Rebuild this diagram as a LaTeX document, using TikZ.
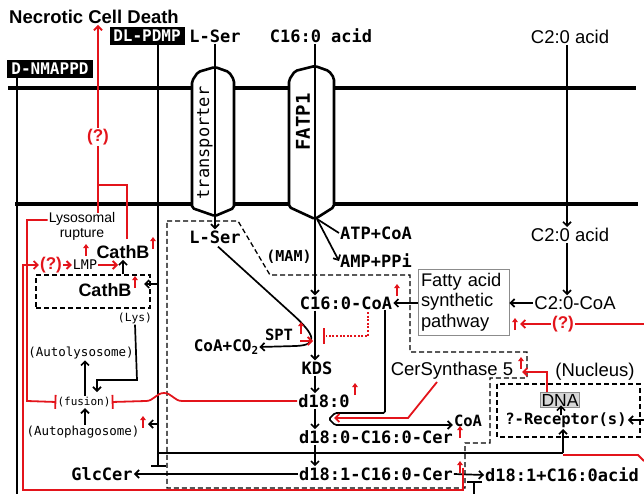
\documentclass[tikz,border=0pt]{standalone}
\usepackage{fontspec}
\setmainfont{Liberation Sans}
\newfontfamily\gothic{DejaVu Sans Mono}
\usepackage{tikz}
\usetikzlibrary{arrows.meta, calc}
\definecolor{PathRed}{HTML}{E3141B}
\definecolor{BoxGray}{HTML}{8C8C8C}
\definecolor{DnaFill}{HTML}{D6D6D6}

\tikzset{
  goth/.style={font=\gothic\bfseries\fontsize{17}{17}\selectfont, inner sep=1pt},
  gothsm/.style={font=\gothic\fontsize{12.5}{13}\selectfont, inner sep=1pt},
  ari/.style={font=\fontsize{18.5}{19}\selectfont, inner sep=1pt},
  tagbox/.style={fill=black, text=white, font=\gothic\bfseries\fontsize{16}{16}\selectfont, inner sep=1.5pt, minimum height=18pt},
  qmark/.style={text=PathRed, font=\bfseries\fontsize{17}{17}\selectfont, inner sep=1pt, fill=white},
  memb/.style={line width=3.4pt},
  chan/.style={line width=2.6pt, fill=white, rounded corners=2pt},
  link/.style={line width=1.7pt},
  flow/.style={line width=1.7pt, -{Straight Barb[length=4pt,width=8pt]}},
  redline/.style={PathRed, line width=1.8pt},
  redflow/.style={PathRed, line width=1.8pt, -{Straight Barb[length=4pt,width=8pt]}},
  redbar/.style={PathRed, line width=1.8pt, -{Bar[width=14pt]}},
  redup/.style={PathRed, line width=1.8pt, -{Triangle[length=4pt,width=5.5pt]}},
  dashbox/.style={line width=1.3pt, dash pattern=on 5pt off 3pt},
}
% small red "up" mark beside a raised level
\newcommand\upmark[2]{\draw[redup] (#1,#2+6) -- (#1,#2-6);}

\begin{document}
\begin{tikzpicture}[x=1pt,y=-1pt]
  \useasboundingbox (0,0) rectangle (644,494);

  % membranes and channels
  \draw[memb] (8,88) -- (636,88);
  \draw[memb] (15,204) -- (638,204);
  \draw[chan] (192,208) -- (192,81) -- (198,72) -- (215,67) -- (229,72) -- (234,80)
    -- (234,208) -- (215,216) -- cycle;
  \draw[chan] (289,207) -- (289,80) -- (295,71) -- (315,66) -- (329,71) -- (334,78)
    -- (334,207) -- (315,219) -- cycle;
  \node[goth, font=\gothic\fontsize{17}{17}\selectfont, rotate=90] (trans) at (205,143) {transporter};
  \node[goth, font=\gothic\bfseries\fontsize{19}{19}\selectfont, rotate=90] (fatp) at (303,122) {FATP1};

  % dashed compartments
  \draw[dashbox] (167,221) -- (238,221) -- (270,275) -- (410,275) -- (410,352) -- (527,352)
    -- (527,378) -- (490,378) -- (490,443) -- (465,443) -- (465,488) -- (167,488) -- cycle;
  \draw[dashbox] (497,384) rectangle (640,437);
  \node[dashbox, draw, minimum width=114pt, minimum height=33pt, inner sep=0pt] (lysbox) at (93,291.5) {};

  % labels outside
  \node[font=\bfseries\fontsize{18.5}{19}\selectfont, inner sep=1pt] (necro) at (94,17) {Necrotic Cell Death};
  \node[tagbox, minimum width=75pt] (pdmp) at (147,36) {DL-PDMP};
  \node[tagbox, minimum width=86pt] (nmappd) at (50,69) {D-NMAPPD};
  \node[goth] (serout) at (215,36) {L-Ser};
  \node[goth] (palmout) at (321,36) {C16:0 acid};
  \node[ari] (acetout) at (570,37) {C2:0 acid};

  % labels inside
  \node[goth] (serin) at (215,237) {L-Ser};
  \node[goth] (atp) at (376,233) {ATP+CoA};
  \node[goth] (amp) at (376,261) {AMP+PPi};
  \node[goth, font=\gothic\bfseries\fontsize{15}{15}\selectfont] (mam) at (289,257) {(MAM)};
  \node[goth] (palmcoa) at (346,303) {C16:0-CoA};
  \node[draw=BoxGray, line width=0.8pt, align=left, font=\fontsize{18.3}{20.5}\selectfont,
    inner xsep=3pt, inner ysep=2pt, text width=85pt, minimum height=66pt] (fasyn) at (463.5,302)
    {Fatty acid\\synthetic\\pathway};
  \node[ari] (acetin) at (570,235) {C2:0 acid};
  \node[ari] (acetcoa) at (575,303) {C2:0-CoA};
  \node[qmark] (qfas) at (563,324) {(?)};
  \node[goth, font=\gothic\bfseries\fontsize{15.5}{16}\selectfont] (spt) at (279,335) {SPT};
  \node[goth, font=\gothic\bfseries\fontsize{16}{16}\selectfont] (coaco) at (226,347)
    {CoA+CO\raisebox{-3pt}{\fontsize{11}{11}\selectfont 2}};
  \node[goth] (kds) at (317,368) {KDS};
  \node[goth] (sphinga) at (324,401) {d18:0};
  \node[ari] (cers) at (452,371) {CerSynthase 5};
  \node[ari] (nucl) at (595,372) {(Nucleus)};
  \node[draw=BoxGray, fill=DnaFill, line width=0.8pt, font=\fontsize{17.5}{18}\selectfont, inner sep=1.2pt] (dna) at (560,400) {DNA};
  \node[goth, font=\gothic\bfseries\fontsize{15.5}{16}\selectfont] (recep) at (566,420) {?-Receptor(s)};
  \node[goth, font=\gothic\bfseries\fontsize{15.5}{16}\selectfont] (coa) at (468,421) {CoA};
  \node[goth] (dhcer) at (376,437) {d18:0-C16:0-Cer};
  \node[goth] (cer) at (376,474) {d18:1-C16:0-Cer};
  \node[goth] (split) at (562,475) {d18:1+C16:0acid};
  \node[goth] (glc) at (102,474) {GlcCer};

  % lysosome side
  \node[qmark] (qdeath) at (98,137) {(?)};
  \node[font=\fontsize{14}{15}\selectfont, align=center, inner sep=1pt] (rupt) at (82,226) {Lysosomal\\rupture};
  \node[qmark] (qlmp) at (51,265) {(?)};
  \node[goth, font=\gothic\fontsize{13.3}{14}\selectfont] (lmp) at (85,265) {LMP};
  \node[font=\bfseries\fontsize{18}{18}\selectfont, inner sep=1pt] (cathout) at (123,252) {CathB};
  \node[font=\bfseries\fontsize{18}{18}\selectfont, inner sep=1pt] (cathin) at (105,290) {CathB};
  \node[goth, font=\gothic\fontsize{11.3}{12}\selectfont] (lys) at (135,318) {(Lys)};
  \node[gothsm] (autolys) at (81,353) {(Autolysosome)};
  \node[goth, font=\gothic\fontsize{11}{12}\selectfont] (fusion) at (84,402) {(fusion)};
  \node[gothsm] (autoph) at (83,432) {(Autophagosome)};

  % junction points
  \coordinate (fx) at (315,0);
  \coordinate (ax) at (567,0);
  \coordinate (nmx) at (17,494);
  \coordinate (glcbar) at (158,467);
  \coordinate (trunk) at (158,453);
  \coordinate (recin) at (563,429);
  \coordinate (fbot) at (317,219);
  \coordinate (bendlo) at (335,425);

  % inhibitors from the top
  \draw[link] (nmappd.south -| nmx) -- (nmx);
  \draw[link, -{Bar[width=15pt]}] (pdmp.south -| glcbar) -- (glcbar);

  % uptake
  \draw[flow] (serout.south) -- (serin.north);
  \draw[flow] (palmout.south -| fx) -- (palmcoa.north -| fx);
  \draw[link] (fbot) -- (atp.west);
  \draw[flow] (fbot) -- (amp.west);
  \draw[flow] (acetout.south -| ax) -- (acetin.north -| ax);
  \draw[flow] (acetin.south -| ax) -- (acetcoa.north -| ax);
  \draw[flow] (acetcoa.west) -- (fasyn.east |- acetcoa.west);
  \draw[flow] (fasyn.west |- palmcoa.east) -- (palmcoa.east);

  % de novo pathway
  \draw[flow] (serin.south) ++(3,2) -- (290,312) .. controls (317,336) and (318,345) .. (296,346) -- (coaco.east);
  \draw[flow] (palmcoa.south -| fx) -- (kds.north -| fx);
  \draw[flow] (kds.south -| fx) -- (sphinga.north -| fx);
  \draw[flow] (sphinga.south -| fx) -- (dhcer.north -| fx);
  \draw[link] (trunk) -- (recin |- trunk);
  \draw[flow] (dhcer.south -| fx) -- (cer.north -| fx);
  \draw[flow] (recin |- trunk) -- (recin);
  \draw[flow, rounded corners=1.5pt] (385,310) -- (385,413) -- (335,413) -- (329,419) -- (bendlo) -- (bendlo -| coa.west);
  \draw[flow] (cer.west) -- (glc.east);
  \draw[flow] (cer.east) -- (split.west);
  \draw[link, -{Bar[width=15pt]}] (474,494) -- (474,481);
  \draw[flow] (dna.south |- recep.north) ++(1,4) -- ++(0,-10);
  \draw[flow] (644,420) -- (recep.east);

  % lysosome and autophagy
  \draw[flow] (158,284) -- (144,284);
  \draw[flow] (158,424) -- (148,424);
  \draw[flow] (lysbox.north -| cathout) -- (cathout.south);
  \draw[flow] (lys.south) -- (137,380) -- (97,380) -- (97,392);
  \draw[flow] (fusion.north -| 85,0) -- (autolys.south -| 85,0);
  \draw[flow] (autoph.north -| 85,0) -- (fusion.south -| 85,0);

  % red regulation
  \draw[redflow] (98,213) -- (qdeath) -- (necro.south -| qdeath);
  \draw[redline] (127,239) -- (127,185) -- (98,185);
  \draw[redbar] (rupt.west |- 0,220) -- (27,220) -- (27,401) -- (fusion.west);
  \draw[redbar] (sphinga.west) -- (182,401) to[out=180,in=0] (164,393) to[out=180,in=0] (146,401) -- (fusion.east);
  \draw[redflow] (463,468) -- (463,490) -- (23,490) -- (23,265) -- (qlmp.west);
  \draw[redflow] (qlmp.east) -- (lmp.west);
  \draw[redflow] (lmp.east) -- (118,265);
  \draw[redline] (644,324) -- (qfas.east);
  \draw[redflow] (qfas.west) -- (520,324);
  \draw[redline] (563,455) -- (638,455) -- (644,461);
  \draw[redflow] (dna.north -| 547,0) -- (547,372) -- (522,372);
  \draw[redflow] (437,382) -- (408,418) -- (334,418);
  \draw[redflow] (300,341) -- (313,341);
  \draw[PathRed, line width=2.4pt, dash pattern=on 2pt off 1.6pt] (368,312) -- (368,336) -- (326,336);
  \draw[PathRed, line width=2.2pt] (324,328) -- (324,344);

  % raised levels
  \upmark{153}{243}
  \upmark{135}{282}
  \upmark{86}{250}
  \upmark{397}{290}
  \upmark{301}{328}
  \upmark{355}{389}
  \upmark{521}{363}
  \upmark{460}{432}
  \upmark{460}{467}
  \upmark{143}{422}
  \upmark{515}{324}
\end{tikzpicture}
\end{document}
